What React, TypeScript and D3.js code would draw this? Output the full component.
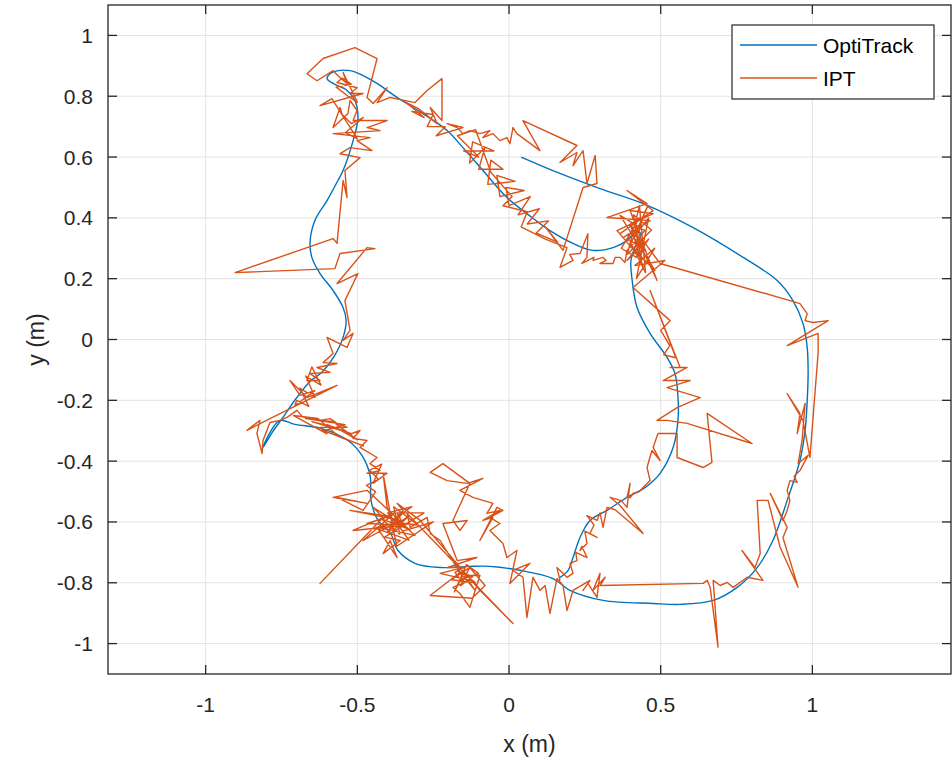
import * as d3 from "d3";

const xTicks = [-1, -0.5, 0, 0.5, 1];
const xTickLabels = ["-1", "-0.5", "0", "0.5", "1"];
const yTicks = [-1, -0.8, -0.6, -0.4, -0.2, 0, 0.2, 0.4, 0.6, 0.8, 1];
const yTickLabels = ["-1", "-0.8", "-0.6", "-0.4", "-0.2", "0", "0.2", "0.4", "0.6", "0.8", "1"];
const seriesNames = ["OptiTrack", "IPT"];
const seriesColors = ["#0072BD", "#D95319"];

// reference trajectory
const optiTrack: [number, number][] = [
  [0.04, 0.6], [0.168, 0.546], [0.3, 0.496], [0.442, 0.447], [0.607, 0.368], [0.772, 0.27],
  [0.884, 0.194], [0.936, 0.128], [0.969, 0.053], [0.983, -0.026], [0.986, -0.108], [0.983, -0.2],
  [0.976, -0.299], [0.959, -0.398], [0.917, -0.529], [0.87, -0.661], [0.818, -0.75], [0.752, -0.815],
  [0.673, -0.858], [0.564, -0.871], [0.475, -0.868], [0.31, -0.858], [0.201, -0.825], [0.145, -0.786],
  [0.036, -0.759], [-0.063, -0.746], [-0.129, -0.746], [-0.227, -0.75], [-0.31, -0.736], [-0.366, -0.694],
  [-0.392, -0.634], [-0.432, -0.595], [-0.455, -0.529], [-0.458, -0.447], [-0.485, -0.381], [-0.531, -0.332],
  [-0.617, -0.293], [-0.706, -0.279], [-0.755, -0.266], [-0.788, -0.306], [-0.811, -0.355], [-0.781, -0.306],
  [-0.748, -0.26], [-0.702, -0.194], [-0.656, -0.138], [-0.617, -0.108], [-0.577, -0.056], [-0.547, 0.007],
  [-0.537, 0.062], [-0.547, 0.105], [-0.58, 0.161], [-0.623, 0.217], [-0.65, 0.27], [-0.656, 0.319],
  [-0.64, 0.391], [-0.6, 0.457], [-0.564, 0.523], [-0.547, 0.556], [-0.514, 0.654], [-0.498, 0.73],
  [-0.508, 0.786], [-0.534, 0.819], [-0.58, 0.842], [-0.6, 0.858], [-0.59, 0.874], [-0.564, 0.884],
  [-0.524, 0.884], [-0.481, 0.868], [-0.435, 0.842], [-0.369, 0.796], [-0.284, 0.743], [-0.204, 0.687],
  [-0.152, 0.631], [-0.086, 0.556], [-0.007, 0.467], [0.059, 0.414], [0.135, 0.358], [0.211, 0.316],
  [0.277, 0.293], [0.343, 0.302], [0.389, 0.325], [0.422, 0.358], [0.435, 0.345], [0.418, 0.31],
  [0.402, 0.26], [0.406, 0.194], [0.422, 0.105], [0.465, 0.02], [0.521, -0.059], [0.547, -0.112],
  [0.557, -0.191], [0.557, -0.266], [0.541, -0.355], [0.498, -0.44], [0.448, -0.487], [0.389, -0.519],
  [0.323, -0.562], [0.267, -0.595], [0.234, -0.651], [0.211, -0.717], [0.195, -0.759], [0.168, -0.782]
];

// indoor positioning estimate
const ipt: [number, number][] = [
  [0.366, 0.348], [0.475, 0.424], [0.389, 0.49], [0.455, 0.447], [0.323, 0.401], [0.465, 0.391],
  [0.376, 0.335], [0.432, 0.27], [0.356, 0.358], [0.475, 0.414], [0.399, 0.424], [0.488, 0.194],
  [0.41, 0.36], [0.44, 0.3], [0.39, 0.33], [0.43, 0.4], [0.37, 0.3], [0.42, 0.27], [0.46, 0.33],
  [0.389, 0.26], [0.442, 0.325], [0.498, 0.25],
  [0.926, 0.128], [0.959, 0.118], [0.983, 0.085], [0.976, 0.062], [1.002, 0.056], [1.052, 0.062],
  [0.917, -0.02], [1.019, 0.02], [1.019, -0.043], [0.992, -0.388], [0.969, -0.266], [0.917, -0.178],
  [0.959, -0.243], [0.95, -0.309], [0.976, -0.21], [0.966, -0.332], [0.953, -0.408], [0.986, -0.381],
  [0.959, -0.431], [0.94, -0.45], [0.95, -0.47], [0.926, -0.464], [0.917, -0.496], [0.926, -0.529],
  [0.917, -0.562], [0.903, -0.595], [0.861, -0.506], [0.917, -0.618], [0.903, -0.651], [0.953, -0.815],
  [0.894, -0.684], [0.854, -0.529], [0.818, -0.529], [0.828, -0.704], [0.811, -0.75], [0.768, -0.694],
  [0.837, -0.792], [0.785, -0.782], [0.739, -0.815], [0.719, -0.799], [0.696, -0.809], [0.673, -0.792],
  [0.689, -1.012], [0.663, -0.815], [0.653, -0.792], [0.64, -0.802], [0.3, -0.809],
  [0.317, -0.782], [0.277, -0.825], [0.3, -0.769], [0.29, -0.848], [0.26, -0.802], [0.244, -0.825],
  [0.267, -0.792], [0.211, -0.825], [0.191, -0.891], [0.178, -0.809], [0.158, -0.786], [0.135, -0.901],
  [0.119, -0.809], [0.102, -0.825], [0.079, -0.782], [0.059, -0.914], [0.046, -0.782], [0.013, -0.759],
  [0.069, -0.736], [0.003, -0.802], [0.026, -0.694], [-0.007, -0.717], [-0.02, -0.671], [-0.063, -0.628],
  [-0.03, -0.605], [-0.063, -0.585], [-0.02, -0.562], [-0.04, -0.552], [-0.096, -0.661], [-0.053, -0.585],
  [-0.086, -0.595], [-0.03, -0.562], [-0.073, -0.572], [-0.053, -0.539], [-0.119, -0.519], [-0.162, -0.496],
  [-0.086, -0.457], [-0.138, -0.473], [-0.204, -0.464], [-0.26, -0.437], [-0.218, -0.408], [-0.129, -0.473],
  [-0.185, -0.595], [-0.162, -0.628], [-0.138, -0.595], [-0.218, -0.605],
  [-0.171, -0.727], [-0.106, -0.717], [-0.204, -0.75], [-0.152, -0.75], [-0.227, -0.769], [-0.129, -0.792],
  [-0.185, -0.815], [-0.162, -0.835], [-0.129, -0.881], [-0.096, -0.776], [-0.145, -0.776], [-0.112, -0.825],
  [-0.14, -0.79], [-0.17, -0.76], [-0.12, -0.78], [-0.16, -0.81], [-0.13, -0.75], [-0.19, -0.79],
  [-0.11, -0.8], [-0.15, -0.77], [-0.18, -0.83], [-0.14, -0.74], [-0.1, -0.77], [-0.16, -0.79],
  [-0.178, -0.766], [-0.135, -0.743], [-0.079, -0.809], [-0.122, -0.851], [-0.26, -0.842], [-0.162, -0.766],
  [-0.227, -0.661], [-0.26, -0.638], [-0.27, -0.585], [-0.326, -0.618], [-0.336, -0.572], [0.013, -0.934],
  [-0.096, -0.825], [-0.293, -0.595],
  [-0.369, -0.539], [-0.349, -0.562], [-0.382, -0.595], [-0.402, -0.552], [-0.415, -0.44], [-0.382, -0.628],
  [-0.33, -0.58], [-0.4, -0.63], [-0.35, -0.57], [-0.39, -0.6], [-0.3, -0.61], [-0.38, -0.55],
  [-0.36, -0.64], [-0.42, -0.59], [-0.34, -0.62], [-0.37, -0.57], [-0.28, -0.57], [-0.41, -0.65],
  [-0.359, -0.661], [-0.415, -0.704], [-0.392, -0.661], [-0.369, -0.717], [-0.435, -0.618], [-0.31, -0.644],
  [-0.36, -0.6], [-0.44, -0.62], [-0.33, -0.66], [-0.38, -0.59], [-0.32, -0.55], [-0.4, -0.57],
  [-0.35, -0.63], [-0.25, -0.6], [-0.37, -0.68], [-0.39, -0.58],
  [-0.468, -0.605], [-0.343, -0.611], [-0.514, -0.628], [-0.376, -0.569], [-0.481, -0.661], [-0.359, -0.595],
  [-0.524, -0.562], [-0.409, -0.579], [-0.623, -0.802], [-0.415, -0.585], [-0.448, -0.552], [-0.326, -0.628],
  [-0.468, -0.496], [-0.58, -0.519], [-0.468, -0.539], [-0.567, -0.519], [-0.481, -0.562],
  [-0.452, -0.519], [-0.44, -0.5], [-0.47, -0.48], [-0.43, -0.46], [-0.46, -0.43], [-0.42, -0.41],
  [-0.448, -0.473], [-0.402, -0.44], [-0.468, -0.44], [-0.425, -0.431], [-0.458, -0.408],
  [-0.435, -0.388], [-0.491, -0.355], [-0.468, -0.332], [-0.514, -0.325], [-0.491, -0.299],
  [-0.52, -0.31], [-0.6, -0.28], [-0.55, -0.3], [-0.65, -0.27], [-0.57, -0.29], [-0.5, -0.33],
  [-0.58, -0.27], [-0.67, -0.26], [-0.54, -0.28], [-0.61, -0.3], [-0.48, -0.35], [-0.56, -0.32],
  [-0.63, -0.26], [-0.71, -0.25], [-0.6, -0.31], [-0.623, -0.289],
  [-0.534, -0.289], [-0.567, -0.276], [-0.59, -0.26], [-0.623, -0.266], [-0.679, -0.256], [-0.699, -0.233],
  [-0.732, -0.256], [-0.755, -0.266], [-0.788, -0.273], [-0.811, -0.332], [-0.814, -0.375], [-0.831, -0.309],
  [-0.821, -0.266], [-0.864, -0.299], [-0.788, -0.26], [-0.567, -0.151], [-0.666, -0.191], [-0.722, -0.135],
  [-0.689, -0.184], [-0.64, -0.168], [-0.706, -0.217],
  [-0.7, -0.2], [-0.66, -0.22], [-0.69, -0.16], [-0.64, -0.19], [-0.67, -0.12], [-0.62, -0.15],
  [-0.65, -0.09], [-0.666, -0.135],
  [-0.623, -0.135], [-0.656, -0.112], [-0.59, -0.108], [-0.633, -0.092], [-0.567, -0.079], [-0.613, -0.076],
  [-0.58, -0.046], [-0.6, 0.007], [-0.534, -0.026], [-0.514, 0.02], [-0.547, -0.003], [-0.524, 0.03],
  [-0.541, 0.128], [-0.498, 0.217], [-0.567, 0.184], [-0.468, 0.302], [-0.442, 0.299], [-0.557, 0.283],
  [-0.574, 0.233], [-0.903, 0.22], [-0.58, 0.332], [-0.567, 0.316], [-0.564, 0.348], [-0.547, 0.523],
  [-0.534, 0.467], [-0.541, 0.556], [-0.491, 0.598], [-0.557, 0.611], [-0.524, 0.631], [-0.452, 0.621],
  [-0.501, 0.654], [-0.458, 0.664], [-0.58, 0.677], [-0.425, 0.687], [-0.468, 0.697], [-0.402, 0.72],
  [-0.514, 0.72], [-0.501, 0.753], [-0.524, 0.786], [-0.531, 0.743], [-0.58, 0.697], [-0.557, 0.763],
  [-0.55, 0.74], [-0.52, 0.71], [-0.48, 0.73], [-0.54, 0.68], [-0.5, 0.66],
  [-0.584, 0.792], [-0.623, 0.769], [-0.481, 0.809], [-0.524, 0.809], [-0.501, 0.828], [-0.567, 0.845],
  [-0.55, 0.86], [-0.52, 0.84], [-0.57, 0.83], [-0.53, 0.8], [-0.5, 0.78],
  [-0.547, 0.878], [-0.534, 0.842], [-0.557, 0.861], [-0.58, 0.884], [-0.633, 0.851], [-0.666, 0.874],
  [-0.613, 0.924], [-0.508, 0.96], [-0.435, 0.924], [-0.468, 0.796], [-0.448, 0.776], [-0.402, 0.828],
  [-0.435, 0.779], [-0.392, 0.796], [-0.31, 0.779], [-0.27, 0.819], [-0.221, 0.858], [-0.221, 0.72],
  [-0.26, 0.763], [-0.237, 0.71],
  [-0.3, 0.76], [-0.34, 0.78], [-0.28, 0.73], [-0.32, 0.75], [-0.25, 0.74], [-0.27, 0.7],
  [-0.21, 0.7], [-0.24, 0.67], [-0.152, 0.697],
  [-0.204, 0.71], [-0.171, 0.697], [-0.152, 0.677], [-0.129, 0.687], [-0.096, 0.677], [-0.063, 0.687],
  [-0.086, 0.664], [-0.053, 0.677], [-0.03, 0.654], [-0.007, 0.664], [0.003, 0.644], [0.013, 0.697],
  [0.026, 0.677], [0.102, 0.621], [0.046, 0.72], [0.224, 0.638], [0.168, 0.582], [0.224, 0.615],
  [0.211, 0.572], [0.244, 0.621], [0.257, 0.513], [0.284, 0.605], [0.29, 0.513], [0.244, 0.5],
  [0.178, 0.293], [0.12, 0.37], [0.16, 0.32], [0.09, 0.35], [0.13, 0.39], [0.06, 0.38],
  [0.1, 0.43], [0.03, 0.41], [0.07, 0.47], [0.0, 0.44], [-0.01, 0.5], [0.05, 0.49],
  [-0.03, 0.47], [-0.04, 0.54], [0.02, 0.52], [-0.07, 0.51], [-0.06, 0.59], [-0.02, 0.56],
  [-0.1, 0.56], [-0.08, 0.63], [-0.13, 0.58], [-0.12, 0.65], [-0.05, 0.62], [-0.15, 0.62],
  [-0.1, 0.6], [-0.17, 0.67], [-0.11, 0.69], [-0.06, 0.55], [0.01, 0.47], [-0.02, 0.44],
  [0.06, 0.42], [0.04, 0.37], [0.12, 0.33], [0.191, 0.302],
  [0.168, 0.237], [0.211, 0.26], [0.2, 0.28], [0.234, 0.283], [0.26, 0.348], [0.257, 0.27],
  [0.24, 0.25], [0.28, 0.27], [0.277, 0.26], [0.31, 0.27], [0.32, 0.26], [0.3, 0.25],
  [0.343, 0.25], [0.35, 0.27], [0.366, 0.27], [0.382, 0.253],
  [0.389, 0.293], [0.448, 0.358], [0.366, 0.408], [0.481, 0.227], [0.399, 0.309], [0.458, 0.441],
  [0.42, 0.35], [0.45, 0.29], [0.4, 0.38], [0.44, 0.24], [0.41, 0.41], [0.47, 0.36],
  [0.39, 0.28], [0.43, 0.44], [0.45, 0.22], [0.4, 0.32], [0.46, 0.4], [0.42, 0.2],
  [0.48, 0.3], [0.415, 0.243], [0.514, 0.26], [0.409, 0.171],
  [0.531, 0.062], [0.5, 0.03], [0.53, -0.02], [0.51, -0.05], [0.55, -0.06], [0.465, 0.161],
  [0.564, -0.092], [0.531, -0.092], [0.587, -0.092], [0.508, -0.135],
  [0.597, -0.135], [0.521, -0.158], [0.63, -0.191], [0.554, -0.224], [0.488, -0.266], [0.521, -0.266],
  [0.587, -0.276], [0.801, -0.342], [0.653, -0.243], [0.669, -0.404], [0.64, -0.421], [0.554, -0.388],
  [0.554, -0.309], [0.491, -0.309], [0.475, -0.355], [0.498, -0.398], [0.471, -0.365], [0.455, -0.421],
  [0.465, -0.464], [0.442, -0.487], [0.43, -0.5], [0.409, -0.506], [0.4, -0.52], [0.389, -0.519],
  [0.399, -0.473], [0.389, -0.552], [0.37, -0.53], [0.333, -0.519], [0.366, -0.546], [0.442, -0.638],
  [0.35, -0.56], [0.323, -0.552], [0.31, -0.618], [0.3, -0.57], [0.29, -0.595], [0.257, -0.579],
  [0.28, -0.61], [0.267, -0.638], [0.29, -0.651], [0.25, -0.63], [0.257, -0.671], [0.234, -0.694],
  [0.24, -0.68], [0.257, -0.717], [0.22, -0.7], [0.224, -0.727], [0.201, -0.736], [0.211, -0.769],
  [0.191, -0.782], [0.158, -0.75], [0.168, -0.792]
];

const font = "'Liberation Sans', Arial, Helvetica, sans-serif";

export default function App() {
  const width = 952;
  const height = 758;
  const marginLeft = 108;
  const marginRight = 1;
  const marginTop = 5;
  const marginBottom = 84;
  const x = d3.scaleLinear([-1.322, 1.457], [marginLeft, width - marginRight]);
  const y = d3.scaleLinear([-1.1, 1.1], [height - marginBottom, marginTop]);
  const smooth = d3.line<[number, number]>(d => x(d[0]), d => y(d[1])).curve(d3.curveCatmullRom.alpha(0.5));
  const straight = d3.line<[number, number]>(d => x(d[0]), d => y(d[1]));
  const left = x.range()[0], right = x.range()[1];
  const top = y.range()[1], bottom = y.range()[0];
  const tick = 9;
  const axisColor = "#262626";

  return (
    <div style={{ position: "absolute", left: 0, top: 0, background: "#fff" }}>
      <svg width={width} height={height} style={{ display: "block" }} fontFamily={font}>
        <defs>
          <clipPath id="plot">
            <rect x={left} y={top} width={right - left} height={bottom - top} />
          </clipPath>
        </defs>
        <rect width={width} height={height} fill="#fff" />
        <g stroke="#e3e3e3" strokeWidth={1}>
          {xTicks.map(t => <line key={"gx" + t} x1={x(t)} x2={x(t)} y1={top} y2={bottom} />)}
          {yTicks.map(t => <line key={"gy" + t} x1={left} x2={right} y1={y(t)} y2={y(t)} />)}
        </g>
        <g clipPath="url(#plot)" fill="none" strokeLinejoin="round">
          <path d={smooth(optiTrack) || ""} stroke={seriesColors[0]} strokeWidth={1.4} />
          <path d={straight(ipt) || ""} stroke={seriesColors[1]} strokeWidth={1.4} />
        </g>
        <g stroke={axisColor} strokeWidth={1.3} fill="none">
          <rect x={left} y={top} width={right - left} height={bottom - top} />
          {xTicks.map(t => (
            <g key={"tx" + t}>
              <line x1={x(t)} x2={x(t)} y1={bottom} y2={bottom - tick} />
              <line x1={x(t)} x2={x(t)} y1={top} y2={top + tick} />
            </g>
          ))}
          {yTicks.map(t => (
            <g key={"ty" + t}>
              <line x1={left} x2={left + tick} y1={y(t)} y2={y(t)} />
              <line x1={right} x2={right - tick} y1={y(t)} y2={y(t)} />
            </g>
          ))}
        </g>
        <g fill={axisColor} fontSize={21}>
          {xTicks.map((t, i) => (
            <text key={"lx" + t} x={x(t)} y={bottom + 30} textAnchor="middle" dominantBaseline="central">{xTickLabels[i]}</text>
          ))}
          {yTicks.map((t, i) => (
            <text key={"ly" + t} x={left - 15} y={y(t)} textAnchor="end" dominantBaseline="central">{yTickLabels[i]}</text>
          ))}
        </g>
        <text x={(left + right) / 2} y={744} fill={axisColor} fontSize={23} textAnchor="middle" dominantBaseline="central">x (m)</text>
        <text transform={`translate(36,${(top + bottom) / 2}) rotate(-90)`} fill={axisColor} fontSize={23} textAnchor="middle" dominantBaseline="central">y (m)</text>
        <g transform="translate(732,25)">
          <rect width={202} height={74} fill="#fff" stroke={axisColor} strokeWidth={1.2} />
          {seriesNames.map((name, i) => (
            <g key={name} transform={`translate(0,${20 + i * 33})`}>
              <line x1={8} x2={85} y1={0} y2={0} stroke={seriesColors[i]} strokeWidth={1.4} />
              <text x={91} y={0} fill="#000" fontSize={21} dominantBaseline="central">{name}</text>
            </g>
          ))}
        </g>
      </svg>
    </div>
  );
}
